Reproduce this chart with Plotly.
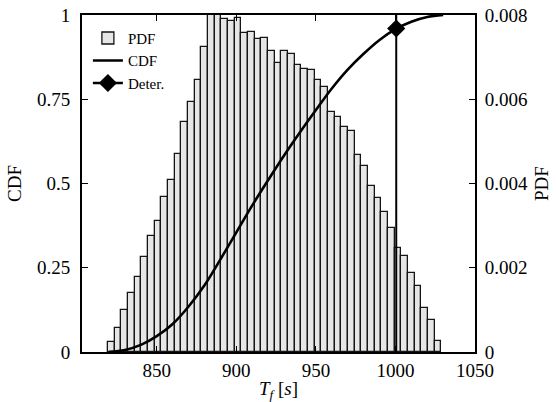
import numpy as np
import plotly.graph_objects as go

# ---- data ----
bin_start = 819.3
bin_width = 4.19
pdf_values = [0.000248, 0.00056, 0.00100, 0.00139, 0.00178, 0.00225, 0.00275, 0.00310, 0.00369, 0.00408,
              0.00470, 0.00546, 0.00594, 0.00646, 0.00725, 0.00802, 0.00802, 0.00790, 0.00786, 0.00792,
              0.00758, 0.00760, 0.00743, 0.00746, 0.00714, 0.00686, 0.00714, 0.00707, 0.00682, 0.00671,
              0.00670, 0.00646, 0.00628, 0.00569, 0.00558, 0.00535, 0.00525, 0.00468, 0.00442, 0.00395,
              0.00365, 0.00333, 0.00295, 0.00248, 0.00228, 0.00188, 0.00157, 0.00104, 0.00076, 0.00027]

cdf_x = [820, 830, 840, 850, 860, 870, 880, 890, 900, 910, 920,
         930, 940, 950, 960, 970, 980, 990, 1000, 1010, 1020, 1030]
cdf_y = [0.0, 0.006, 0.021, 0.047, 0.083, 0.135, 0.198, 0.275, 0.355, 0.435, 0.510,
         0.583, 0.652, 0.718, 0.782, 0.838, 0.885, 0.926, 0.958, 0.980, 0.994, 1.0]

det_x = 1000.5
det_cdf = 0.96

x_ticks = [850, 900, 950, 1000, 1050]
cdf_ticks = [0, 0.25, 0.5, 0.75, 1]
cdf_ticktext = ["0", "0.25", "0.5", "0.75", "1"]
pdf_ticks = [0, 0.002, 0.004, 0.006, 0.008]
pdf_ticktext = ["0", "0.002", "0.004", "0.006", "0.008"]

bin_centers = bin_start + bin_width * (np.arange(len(pdf_values)) + 0.5)

FONT = "Liberation Serif, DejaVu Serif, serif"

fig = go.Figure()
fig.add_bar(x=bin_centers, y=pdf_values, width=bin_width, name="PDF", yaxis="y",
            marker=dict(color="#e6e6e6", line=dict(color="#151515", width=1.3)))
fig.add_scatter(x=cdf_x, y=cdf_y, mode="lines", name="CDF", yaxis="y2",
                line=dict(color="black", width=2.6, shape="spline"))
fig.add_scatter(x=[det_x, det_x], y=[0, 1], mode="lines", showlegend=False, yaxis="y2",
                line=dict(color="black", width=2))
fig.add_scatter(x=[det_x], y=[det_cdf], mode="lines+markers", name="Deter.", yaxis="y2",
                marker=dict(symbol="diamond", size=14, color="black"),
                line=dict(color="black", width=2.6))

axis_common = dict(showline=True, linecolor="black", linewidth=2, ticks="inside", ticklen=6,
                   tickwidth=1.3, tickcolor="black", showgrid=False, zeroline=False, automargin=False,
                   tickfont=dict(family=FONT, size=19, color="black"))

fig.update_layout(
    width=556, height=402,
    margin=dict(l=82, r=81, t=15, b=50),
    paper_bgcolor="white", plot_bgcolor="white",
    bargap=0,
    font=dict(family=FONT, color="black"),
    xaxis=dict(range=[803, 1050], tickvals=x_ticks, mirror="ticks",
               title=dict(text="<i>T</i><sub><i>f</i></sub> [<i>s</i>]", font=dict(family=FONT, size=19), standoff=6),
               **axis_common),
    yaxis=dict(range=[0, 0.008], side="right", tickvals=pdf_ticks, ticktext=pdf_ticktext, mirror=True,
               title=dict(text="PDF", font=dict(family=FONT, size=19), standoff=8),
               ticklabelstandoff=4, **axis_common),
    yaxis2=dict(range=[0, 1], side="left", overlaying="y", tickvals=cdf_ticks, ticktext=cdf_ticktext,
                mirror=True, title=dict(text="CDF", font=dict(family=FONT, size=19), standoff=10),
                ticklabelstandoff=6, **axis_common),
    legend=dict(x=0.015, y=0.98, xanchor="left", yanchor="top", bgcolor="rgba(0,0,0,0)",
                font=dict(family=FONT, size=15), tracegroupgap=0, itemwidth=30),
    showlegend=True,
)

fig.write_html("out.html")
